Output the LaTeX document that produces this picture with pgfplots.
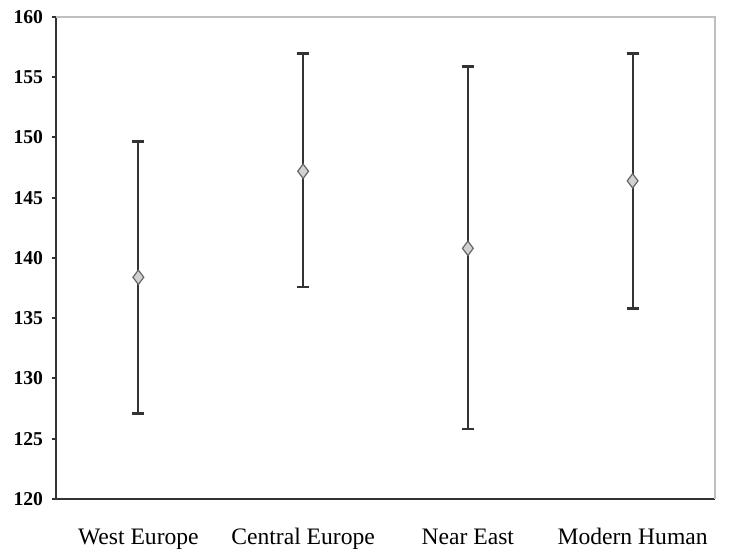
\documentclass[border=0pt]{standalone}
\usepackage{pgfplots}
\pgfplotsset{compat=1.18}
\usepackage{fontspec}
\setmainfont{Liberation Serif}
\begin{document}
\begin{tikzpicture}
\useasboundingbox (-28pt,-25pt) rectangle (337pt,249.5pt);
\begin{axis}[
  at={(0,0)}, anchor=south west,
  scale only axis, width=329.5pt, height=241pt,
  xmin=0.5, xmax=4.5, ymin=120, ymax=160,
  axis x line*=bottom, axis y line*=left,
  axis line style={black!80, line width=1pt},
  ytick={120,125,...,160},
  yticklabel style={font=\fontsize{9.8}{11}\selectfont\bfseries, xshift=-1pt},
  /pgf/number format/assume math mode=true,
  xtick={1,2,3,4},
  xticklabels={West Europe, Central Europe, Near East, Modern Human},
  xticklabel style={font=\fontsize{11.8}{13}\selectfont, text height=1.6ex, text depth=0.3ex, yshift=-10pt},
  x tick style={draw=none},
  extra x ticks={0.5,1.5,2.5,3.5,4.5},
  extra x tick labels={},
  extra x tick style={tick style={draw=black!80, line width=1pt}, major tick length=3pt, tick align=outside},
  y tick style={black!80, line width=1pt},
  major tick length=2pt, tick align=outside,
  clip=false,
]
\draw[black!25, line width=0.8pt] (rel axis cs:0,1) -- (rel axis cs:1,1) -- (rel axis cs:1,0);
\addplot[
  only marks,
  mark=diamond*, mark size=3.6pt,
  mark options={fill=black!18, draw=black!60, line width=0.6pt},
  error bars/.cd, y dir=both, y explicit,
  error bar style={black!80, line width=1pt},
  error mark options={rotate=90, mark size=3pt, line width=1.4pt, black!80},
] table[x=x, y=y, y error plus=ep, y error minus=em] {
x y ep em
1 138.4 11.3 11.3
2 147.2 9.8 9.6
3 140.8 15.1 15.0
4 146.4 10.6 10.6
};
\end{axis}
\end{tikzpicture}
\end{document}
